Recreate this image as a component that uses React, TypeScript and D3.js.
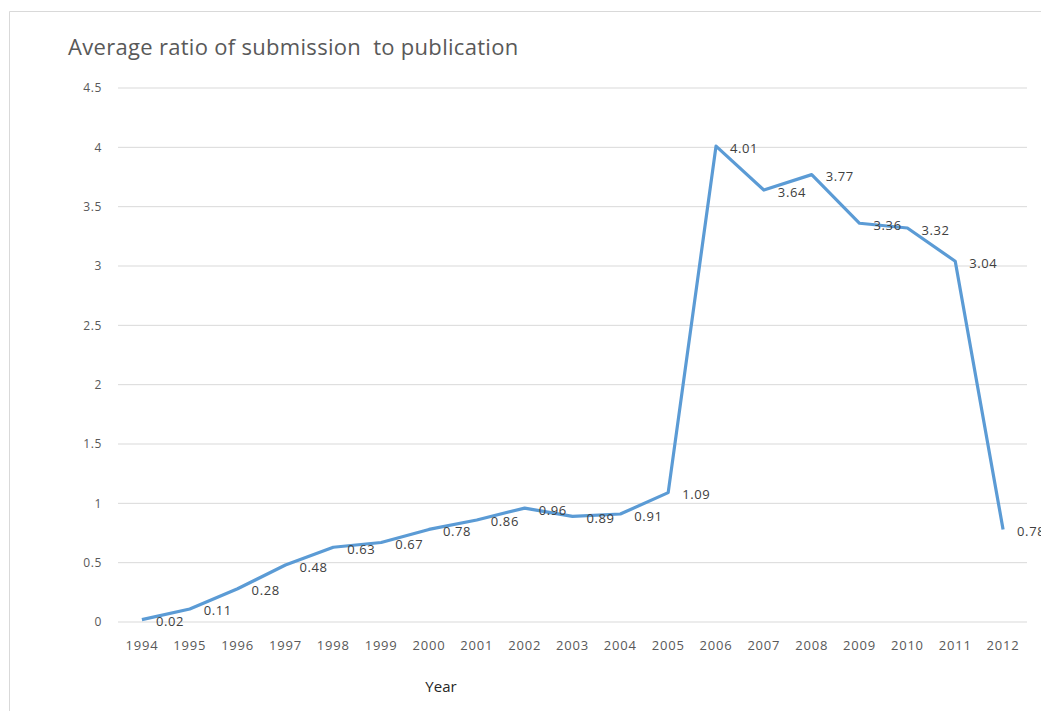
import React from "react";
import * as d3 from "d3";

const years = ["1994","1995","1996","1997","1998","1999","2000","2001","2002","2003","2004","2005","2006","2007","2008","2009","2010","2011","2012"];
const ratios = [0.02,0.11,0.28,0.48,0.63,0.67,0.78,0.86,0.96,0.89,0.91,1.09,4.01,3.64,3.77,3.36,3.32,3.04,0.78];
const yTicks = [0,0.5,1,1.5,2,2.5,3,3.5,4,4.5];

const W = 1041;
const H = 711;
const margin = { top: 88, right: 14, bottom: 89, left: 118 };
const font = "'Open Sans', sans-serif";

export default function App() {
  const x = d3
    .scaleBand()
    .domain(years)
    .range([margin.left, W - margin.right]);
  const y = d3
    .scaleLinear()
    .domain([0, 4.5])
    .range([H - margin.bottom, margin.top]);

  const cx = (d: string) => (x(d) as number) + x.bandwidth() / 2;
  const line = d3
    .line<number>()
    .x((_, i) => cx(years[i]))
    .y((d) => y(d));

  return (
    <svg
      width={W}
      height={H}
      style={{ position: "absolute", left: 0, top: 0, background: "#fff" }}
    >
      {/* chart frame */}
      <path d={`M9.5,${H} L9.5,11.5 L${W},11.5`} fill="none" stroke="#d9d9d9" />
      <text
        x={68}
        y={55}
        fontFamily={font}
        fontSize={22}
        letterSpacing={0.3}
        fill="#595959"
        style={{ whiteSpace: "pre" }}
      >
        {"Average ratio of submission  to publication"}
      </text>

      {yTicks.map((t) => (
        <g key={t}>
          <line
            x1={margin.left}
            x2={W - margin.right}
            y1={y(t)}
            y2={y(t)}
            stroke="#d9d9d9"
          />
          <text
            x={102}
            y={y(t)}
            dy="0.35em"
            textAnchor="end"
            fontFamily={font}
            fontSize={12}
            letterSpacing={0.6}
            fill="#595959"
          >
            {t}
          </text>
        </g>
      ))}

      {years.map((yr) => (
        <text
          key={yr}
          x={cx(yr)}
          y={y(0) + 28}
          textAnchor="middle"
          fontFamily={font}
          fontSize={13}
          letterSpacing={0.8}
          fill="#595959"
        >
          {yr}
        </text>
      ))}

      <text x={441} y={692} textAnchor="middle" fontFamily={font} fontSize={15} fill="#262626">
        Year
      </text>

      <path
        d={line(ratios) as string}
        fill="none"
        stroke="#5b9bd5"
        strokeWidth={3.2}
        strokeLinejoin="round"
      />

      {ratios.map((v, i) => (
        <text
          key={i}
          x={cx(years[i]) + 14}
          y={y(v) + 2}
          dy="0.35em"
          fontFamily={font}
          fontSize={13}
          letterSpacing={0.6}
          fill="#404040"
        >
          {v.toFixed(2)}
        </text>
      ))}
    </svg>
  );
}
